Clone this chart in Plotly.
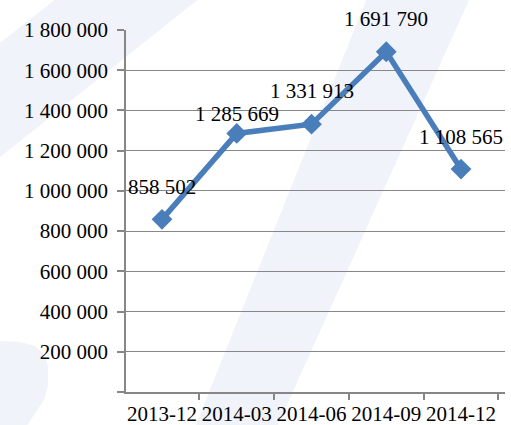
import plotly.graph_objects as go

# Quarterly values
periods = ["2013-12", "2014-03", "2014-06", "2014-09", "2014-12"]
values = [858502, 1285669, 1331913, 1691790, 1108565]
y_ticks = [0, 200000, 400000, 600000, 800000, 1000000, 1200000, 1400000, 1600000, 1800000]

# vertical offsets (px) of the value labels above each point
label_shift = [32, 19, 33, 33, 32]

W, H = 511, 425
M_L, M_R, M_T, M_B = 126, 6, 30, 33
PW, PH = W - M_L - M_R, H - M_T - M_B

BLUE = "#4a7ebb"
GRID = "#878787"
WASH = "#f0f3f9"
FONT = "Liberation Serif"


def fmt(v):
    return f"{v:,}".replace(",", " ")


def px(x, y):
    """pixel position on the page -> paper coordinates"""
    return (x - M_L) / PW, (H - M_B - y) / PH


def poly(points):
    parts = []
    for i, (x, y) in enumerate(points):
        u, v = px(x, y)
        parts.append(("M" if i == 0 else "L") + f"{u:.4f},{v:.4f}")
    return " ".join(parts) + " Z"


# pale diagonal watermark bands behind the chart
bands = [
    [(367, -2), (470, -2), (277, 427), (195, 427)],
    [(0, 43), (57, -2), (200, -2), (0, 157)],
    [(0, 341), (20, 342), (35, 346), (44, 354), (48, 366), (48, 386),
     (44, 400), (26, 427), (0, 427)],
]
shapes = [
    dict(type="path", path=poly(b), xref="paper", yref="paper",
         fillcolor=WASH, line=dict(width=0), layer="below")
    for b in bands
]

fig = go.Figure()
fig.add_trace(go.Scatter(
    x=periods, y=values, mode="lines+markers",
    line=dict(color=BLUE, width=5.5),
    marker=dict(symbol="diamond", size=16, color=BLUE),
    hoverinfo="skip", showlegend=False,
))

annotations = [
    dict(x=p, y=v, text=fmt(v), showarrow=False, yshift=s,
         xref="x", yref="y", font=dict(family=FONT, size=21, color="#000"))
    for p, v, s in zip(periods, values, label_shift)
]

fig.update_layout(
    width=W, height=H,
    margin=dict(l=M_L, r=M_R, t=M_T, b=M_B, pad=0),
    paper_bgcolor="white", plot_bgcolor="rgba(0,0,0,0)",
    font=dict(family=FONT, size=21, color="#000"),
    separators=". ",
    shapes=shapes,
    annotations=annotations,
    xaxis=dict(
        type="category", showgrid=False, showline=True, linecolor=GRID,
        linewidth=1.5, ticks="outside", tickson="boundaries", ticklen=6,
        tickcolor=GRID, tickwidth=1.5, tickangle=0, automargin=False,
        tickfont=dict(family=FONT, size=21), ticklabelstandoff=2,
        fixedrange=True,
    ),
    yaxis=dict(
        range=[0, 1800000], tickvals=y_ticks,
        ticktext=["" if t == 0 else fmt(t) for t in y_ticks],
        showgrid=True, gridcolor=GRID, gridwidth=1.3, zeroline=False,
        showline=True, linecolor=GRID, linewidth=1.5,
        ticks="outside", ticklen=7, tickcolor=GRID, tickwidth=1.5,
        tickfont=dict(family=FONT, size=21),
        ticklabelstandoff=5, automargin=False, fixedrange=True,
    ),
)

fig.write_html("out.html", config={"displayModeBar": False})
